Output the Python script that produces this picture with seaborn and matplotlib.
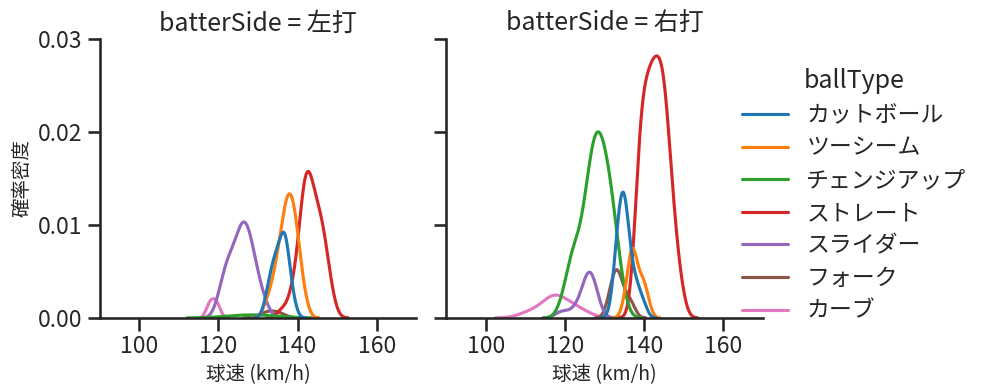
import numpy as np
import pandas as pd
import seaborn as sns
import matplotlib.pyplot as plt

sides = ["左打", "右打"]
ball_types = ["カットボール", "ツーシーム", "チェンジアップ", "ストレート",
              "スライダー", "フォーク", "カーブ"]

# 左打: speed (km/h) and number of pitches at that speed
l_cut_kmh = [132, 133, 134, 135, 136, 137, 138, 139]
l_cut_n = [1, 2, 3, 3, 4, 5, 2, 1]
l_two_kmh = [132, 133, 134, 135, 136, 137, 138, 139, 140, 141, 142]
l_two_n = [1, 1, 2, 3, 4, 6, 6, 6, 4, 2, 1]
l_change_kmh = [125, 132]
l_change_n = [1, 1]
l_straight_kmh = [136, 138, 139, 140, 141, 142, 143, 144, 145, 146, 147, 148, 149]
l_straight_n = [1, 1, 2, 2, 6, 8, 7, 6, 5, 5, 4, 2, 1]
l_slider_kmh = [120, 121, 122, 123, 124, 125, 126, 127, 128, 129, 130, 131, 132]
l_slider_n = [1, 2, 3, 3, 3, 4, 5, 5, 4, 3, 2, 1, 1]
l_fork_kmh = [132, 135]
l_fork_n = [1, 1]
l_curve_kmh = [117.6, 118.7, 119.8]
l_curve_n = [1, 1, 1]

# 右打
r_cut_kmh = [132, 133, 134, 135, 136, 137, 138, 139, 140]
r_cut_n = [1, 4, 6, 7, 4, 2, 2, 1, 1]
r_two_kmh = [135, 136, 137, 138, 139, 140, 141]
r_two_n = [1, 2, 5, 2, 2, 2, 1]
r_change_kmh = [119, 120, 121, 122, 123, 124, 125, 126, 127, 128, 129, 130, 131, 132, 133, 134, 135]
r_change_n = [1, 1, 3, 4, 3, 4, 5, 7, 9, 9, 9, 8, 7, 6, 4, 2, 1]
r_straight_kmh = [137, 138, 139, 140, 141, 142, 143, 144, 145, 146, 147, 148, 149, 150]
r_straight_n = [1, 6, 10, 11, 11, 12, 12, 12, 12, 9, 6, 4, 2, 1]
r_slider_kmh = [119, 122, 124, 125, 126, 127, 128]
r_slider_n = [1, 1, 1, 2, 3, 3, 1]
r_fork_kmh = [131, 132, 133, 134, 135, 136, 137]
r_fork_n = [1, 2, 3, 2, 1, 1, 1]
r_curve_kmh = [110, 113, 115, 116, 117, 118, 119, 120, 121, 123, 125]
r_curve_n = [1, 1, 1, 1, 2, 1, 1, 1, 1, 1, 1]

groups = {
    "左打": [(l_cut_kmh, l_cut_n), (l_two_kmh, l_two_n), (l_change_kmh, l_change_n),
             (l_straight_kmh, l_straight_n), (l_slider_kmh, l_slider_n),
             (l_fork_kmh, l_fork_n), (l_curve_kmh, l_curve_n)],
    "右打": [(r_cut_kmh, r_cut_n), (r_two_kmh, r_two_n), (r_change_kmh, r_change_n),
             (r_straight_kmh, r_straight_n), (r_slider_kmh, r_slider_n),
             (r_fork_kmh, r_fork_n), (r_curve_kmh, r_curve_n)],
}

frames = []
for side in sides:
    for bt, (kmh, n) in zip(ball_types, groups[side]):
        speeds = np.repeat(kmh, n)
        frames.append(pd.DataFrame({"batterSide": side, "ballType": bt, "speed": speeds}))
df = pd.concat(frames, ignore_index=True)

sns.set_theme(style="ticks", context="talk", palette="tab10")
plt.rcParams["font.family"] = ["Noto Sans CJK JP", "DejaVu Sans"]

g = sns.displot(df, x="speed", hue="ballType", col="batterSide", kind="kde",
                hue_order=ball_types, col_order=sides, height=4, aspect=1)
g.set(xlim=(90, 170), ylim=(0, 0.03), yticks=[0, 0.01, 0.02, 0.03])
g.set_axis_labels("球速 (km/h)", "確率密度", fontsize=14)

g.figure.set_size_inches(9.87, 3.91)
g.figure.subplots_adjust(left=0.101, right=0.773, bottom=0.187, top=0.9, wspace=0.095)
sns.move_legend(g, "center left", bbox_to_anchor=(0.731, 0.5), frameon=False,
                labelspacing=0.42)

g.figure.savefig("out.png", dpi=100)
